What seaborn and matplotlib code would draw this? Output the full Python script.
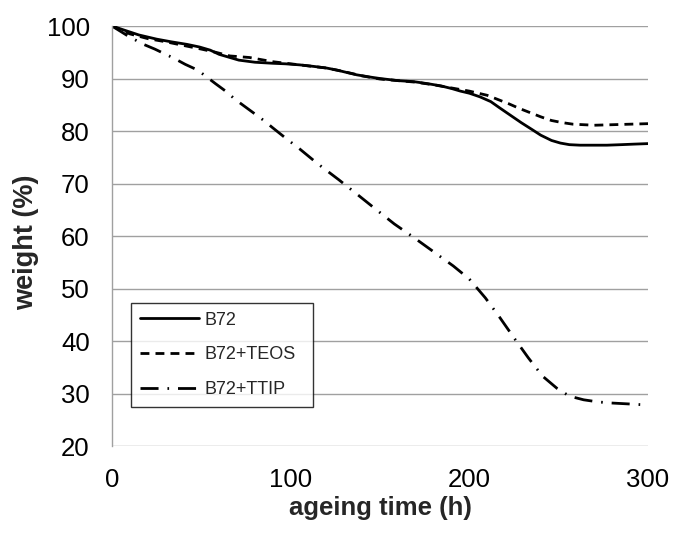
import matplotlib
matplotlib.use("Agg")
import matplotlib.pyplot as plt
import seaborn as sns
import pandas as pd

# ageing time (h) and weight (%) per series
t_b72 = [0, 7, 15, 25, 33, 42, 49, 55, 60, 66, 71, 80, 90, 97, 105, 113, 120, 126,
         132, 137, 144, 150, 160, 169, 177, 184, 190, 195, 200, 206, 212, 217, 223,
         229, 235, 240, 246, 251, 256, 262, 270, 277, 285, 292, 300]
w_b72 = [100, 99.2, 98.3, 97.5, 97.0, 96.5, 96.0, 95.4, 94.6, 94.0, 93.5, 93.1, 92.9,
         92.8, 92.6, 92.3, 92.0, 91.6, 91.1, 90.7, 90.3, 90.0, 89.6, 89.4, 89.0, 88.6,
         88.1, 87.6, 87.2, 86.5, 85.6, 84.4, 83.0, 81.6, 80.3, 79.2, 78.2, 77.7, 77.4,
         77.3, 77.3, 77.3, 77.4, 77.5, 77.6]

t_teos = [0, 10, 20, 30, 40, 50, 58, 66, 77, 90, 100, 110, 120, 130, 140, 150, 160,
          170, 180, 190, 200, 205, 210, 216, 222, 228, 234, 240, 246, 252, 258, 264,
          270, 280, 290, 300]
w_teos = [100, 98.5, 97.6, 97.0, 96.3, 95.6, 95.0, 94.3, 94.0, 93.2, 92.8, 92.4, 92.0,
          91.3, 90.5, 89.9, 89.6, 89.3, 88.8, 88.2, 87.6, 87.2, 86.8, 86.0, 85.2, 84.3,
          83.5, 82.7, 82.0, 81.6, 81.3, 81.2, 81.1, 81.2, 81.3, 81.4]

t_ttip = [0, 8, 17, 24, 35, 41, 48, 58, 64, 69, 79, 85, 90, 97, 105, 115, 127, 137,
          148, 158, 169, 180, 191, 200, 209, 217, 225, 233, 241, 249, 256, 264, 272,
          279, 290, 300]
w_ttip = [100, 98.3, 96.6, 95.6, 93.8, 92.7, 91.6, 89.0, 87.5, 86.0, 83.5, 82.0, 80.6,
          78.7, 76.6, 73.8, 70.7, 68.0, 65.0, 62.3, 59.7, 57.0, 54.3, 51.8, 48.2, 44.5,
          40.6, 36.8, 33.3, 31.0, 29.5, 28.8, 28.4, 28.2, 28.0, 27.8]

series_names = ["B72", "B72+TEOS", "B72+TTIP"]
x_ticks = [0, 100, 200, 300]
y_ticks = [20, 30, 40, 50, 60, 70, 80, 90, 100]

frames = []
for name, t, w in zip(series_names, [t_b72, t_teos, t_ttip], [w_b72, w_teos, w_ttip]):
    frames.append(pd.DataFrame({"time": t, "weight": w, "series": name}))
df = pd.concat(frames, ignore_index=True)

sns.set_style("white")
plt.rcParams["font.family"] = ["Liberation Sans", "DejaVu Sans"]

fig = plt.figure(figsize=(6.77, 5.33), dpi=100)
ax = fig.add_axes([0.1654, 0.1632, 0.7918, 0.7880])

dash_styles = {"B72": "", "B72+TEOS": (3.2, 2.2), "B72+TTIP": (6.5, 3.2, 0.6, 3.2)}
sns.lineplot(data=df, x="time", y="weight", hue="series", style="series",
             palette=["black"] * 3, dashes=dash_styles, linewidth=2.0,
             ax=ax, legend=True, sort=True)

ax.set_xlim(0, 300)
ax.set_ylim(20, 100)
ax.set_xticks(x_ticks)
ax.set_yticks(y_ticks)
ax.yaxis.grid(True, color="#a0a0a0", linewidth=1.0)
ax.xaxis.grid(False)
ax.set_axisbelow(True)
for s in ["top", "right", "bottom"]:
    ax.spines[s].set_visible(False)
ax.spines["left"].set_color("#a0a0a0")
ax.spines["left"].set_linewidth(1.0)
ax.tick_params(axis="both", length=0, labelsize=18.5, colors="black")
ax.tick_params(axis="x", pad=16)
ax.tick_params(axis="y", pad=16)

ax.set_xlabel("ageing time (h)", fontsize=18.5, fontweight="bold", labelpad=3)
ax.set_ylabel("weight (%)", fontsize=19.5, fontweight="bold")
ax.yaxis.set_label_coords(-0.136, 0.485)

leg = ax.legend(loc="lower left", bbox_to_anchor=(0.035, 0.093, 0.34, 0.243),
                mode="expand", frameon=True, fontsize=13, handlelength=3.3,
                borderaxespad=0, fancybox=False, handletextpad=0.3,
                labelspacing=0.98, borderpad=0.5)
leg.get_frame().set_edgecolor("black")
leg.get_frame().set_linewidth(1.0)

fig.savefig("out.png", dpi=100)
